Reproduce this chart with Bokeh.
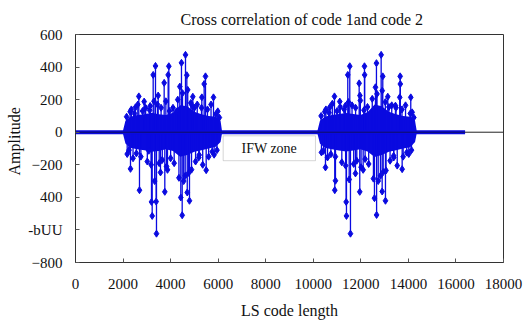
from bokeh.plotting import figure
from bokeh.models import Range1d, FixedTicker, BoxAnnotation, Label, ColumnDataSource, Title
from bokeh.embed import file_html
from bokeh.resources import INLINE

# ---------------- data ----------------
x_ticks = [0, 2000, 4000, 6000, 8000, 10000, 12000, 14000, 16000, 18000]
y_ticks = [-800, -600, -400, -200, 0, 200, 400, 600]
y_label_overrides = {-400: "400", -600: "-bUU"}

# zero-valued part of the correlation (dense band of samples)
zero_x = [0, 16384]
zero_y = [0, 0]

# burst 1 : dense core envelope
core1_x = [1980, 2100, 2300, 2600, 2900, 3200, 3500, 3800, 4100, 4400, 4700, 5000, 5300, 5600, 5900, 6100, 6170]
core1_up = [0, 70, 95, 105, 110, 120, 110, 105, 120, 165, 160, 125, 110, 100, 95, 70, 0]
core1_lo = [0, -70, -95, -105, -110, -120, -115, -105, -115, -150, -140, -120, -110, -100, -90, -60, 0]

# burst 2 : dense core envelope
core2_x = [10160, 10280, 10480, 10780, 11080, 11380, 11680, 11980, 12280, 12580, 12880, 13180, 13480, 13780, 14080, 14280, 14360]
core2_up = [0, 70, 95, 105, 112, 118, 112, 105, 122, 170, 160, 125, 110, 100, 95, 70, 0]
core2_lo = [0, -70, -95, -105, -112, -118, -112, -105, -118, -152, -140, -120, -110, -100, -92, -60, 0]

# burst 1 : large spikes
sp1_x = [2174, 2299, 2313, 2523, 2663, 2691, 2888, 3083, 3141, 3196, 3225, 3267, 3364, 3393, 3406,
         3477, 3574, 3729, 3756, 3869, 3897, 3925, 4247, 4387, 4428, 4457, 4487, 4613, 4626, 4682,
         4700, 4794, 4907, 4934, 5185, 5313, 5411, 5467, 5496, 5803, 5830, 5984]
sp1_y = [-134, 126, -225, 153, 220, -356, 188, -114, 161, -428, -514, 352, 407, -426, -623,
         225, -247, 303, -366, -231, 352, 405, 128, 280, -401, 426, -510, -268, 475, 350,
         -370, -421, 163, 218, -155, 214, 296, 343, -233, 214, -138, 128]

# burst 1 : medium spikes
md1_x = [2150, 2250, 2350, 2420, 2480, 2560, 2620, 2750, 2820, 2950, 3020, 3120, 3180, 3300, 3330,
         3450, 3520, 3600, 3650, 3800, 3830, 3950, 4000, 4100, 4150, 4300, 4350, 4500, 4550, 4720,
         4760, 4850, 4880, 5000, 5050, 5120, 5200, 5300, 5350, 5550, 5600, 5700, 5750, 5900, 5950, 6050]
md1_y = [95, -110, 140, -160, 115, -130, 170, -150, 130, 150, -180, 135, -200, 190, -300,
         170, -190, 150, -170, 190, -210, 130, -160, 150, -190, 200, -280, 240, -300, 260,
         -250, 180, -230, 150, -180, 170, -140, 150, -200, 140, -150, 170, -120, 110, -110, 90]

# burst 2 : large spikes
sp2_x = [10344, 10483, 10513, 10694, 10891, 10904, 10933, 11114, 11354, 11383, 11396, 11451, 11535,
         11564, 11774, 11930, 11955, 11962, 12098, 12153, 12160, 12573, 12615, 12657, 12663, 12825,
         12855, 12897, 12923, 13036, 13133, 13385, 13456, 13637, 13654, 13660, 13738, 14016, 14100, 14159]
sp2_y = [-124, 126, -216, 153, 220, -356, -298, 188, 163, -428, -514, 352, 405,
         -623, -253, 300, -366, 225, -231, 405, 352, -405, 276, 424, -508, -268,
         475, -364, 343, -421, 218, -155, 163, 214, 343, 296, -227, -134, 214, 122]

# burst 2 : medium spikes
md2_x = [10330, 10430, 10530, 10600, 10660, 10740, 10800, 10930, 11000, 11130, 11200, 11300, 11360,
         11480, 11510, 11630, 11700, 11780, 11830, 11980, 12010, 12130, 12180, 12280, 12330, 12480,
         12530, 12680, 12730, 12900, 12940, 13030, 13060, 13180, 13230, 13300, 13380, 13480, 13530,
         13730, 13780, 13880, 13930, 14080, 14130, 14230]
md2_y = [100, -115, 140, -155, 120, -135, 175, -150, 130, 155, -185, 140, -205, 185, -290,
         165, -195, 150, -175, 195, -215, 135, -165, 155, -195, 205, -285, 235, -300, 255,
         -245, 185, -235, 155, -175, 165, -145, 150, -205, 140, -150, 165, -125, 115, -110, 90]

# ---------------- figure ----------------
BLUE = "#0a0ae0"
SERIF = "Liberation Serif"

p = figure(width=526, height=324, output_backend="svg", toolbar_location=None,
           x_range=Range1d(0, 18000), y_range=Range1d(-800, 600),
           title="Cross correlation of code 1and code 2",
           min_border_left=75, min_border_right=23, min_border_top=34, min_border_bottom=62)

p.title.text_font = SERIF
p.title.text_font_size = "16px"
p.title.text_font_style = "normal"
p.title.text_color = "#111111"
p.title.align = "left"
p.title.offset = 105
p.title.standoff = 14

# y axis label as a side title so it can sit a bit above the frame centre
p.add_layout(Title(text="Amplitude", align="left", offset=87, text_font=SERIF,
                   text_font_size="16px", text_font_style="normal", text_color="#111111",
                   standoff=6), "left")

p.xgrid.visible = False
p.ygrid.visible = False
p.outline_line_color = "#333333"
p.outline_line_width = 1
p.background_fill_color = "white"
p.border_fill_color = "white"

for ax in (p.xaxis[0], p.yaxis[0]):
    ax.major_tick_out = 0
    ax.major_tick_in = 4
    ax.minor_tick_in = 0
    ax.minor_tick_out = 0
    ax.axis_line_color = "#333333"
    ax.major_tick_line_color = "#555555"
    ax.major_label_text_font = SERIF
    ax.major_label_text_font_size = "15px"
    ax.major_label_text_color = "#111111"
    ax.axis_label_text_font = SERIF
    ax.axis_label_text_font_size = "16px"
    ax.axis_label_text_font_style = "normal"
    ax.axis_label_text_color = "#111111"

p.xaxis.ticker = FixedTicker(ticks=x_ticks)
p.yaxis.ticker = FixedTicker(ticks=y_ticks)
p.yaxis.major_label_overrides = y_label_overrides
p.xaxis.axis_label = "LS code length"
p.xaxis.major_label_standoff = 16
p.yaxis.major_label_standoff = 13
p.xaxis.axis_label_standoff = 10

# black zero line across the whole plot
p.line(x=[x_ticks[0], x_ticks[-1]], y=[0, 0], line_color="#222222", line_width=1)

# dense cores
p.varea(x=core1_x, y1=core1_lo, y2=core1_up, fill_color=BLUE)
p.varea(x=core2_x, y1=core2_lo, y2=core2_up, fill_color=BLUE)

# spikes (medium and large), drawn as vertical strokes with diamond markers
for xs, ys in ((md1_x, md1_y), (md2_x, md2_y), (sp1_x, sp1_y), (sp2_x, sp2_y)):
    src = ColumnDataSource(dict(x=xs, y=ys, y0=[0] * len(xs)))
    p.segment(x0="x", y0="y0", x1="x", y1="y", source=src, line_color=BLUE, line_width=1.3)
    p.scatter(x="x", y="y", source=src, marker="diamond", size=7,
              fill_color=BLUE, line_color=BLUE)

# zero band of samples
p.line(x=zero_x, y=zero_y, line_color=BLUE, line_width=4)
p.line(x=zero_x, y=zero_y, line_color="#101060", line_width=1)

# IFW zone box
p.add_layout(BoxAnnotation(left=6211, right=10092, top=-22, bottom=-175,
                           fill_color="white", fill_alpha=1.0,
                           line_color="#777777", line_width=1))
p.add_layout(Label(x=8150, y=-98, text="IFW zone", text_font=SERIF,
                   text_font_size="14px", text_align="center", text_baseline="middle",
                   text_color="#111111"))

open("out.html", "w").write(file_html(p, INLINE))
